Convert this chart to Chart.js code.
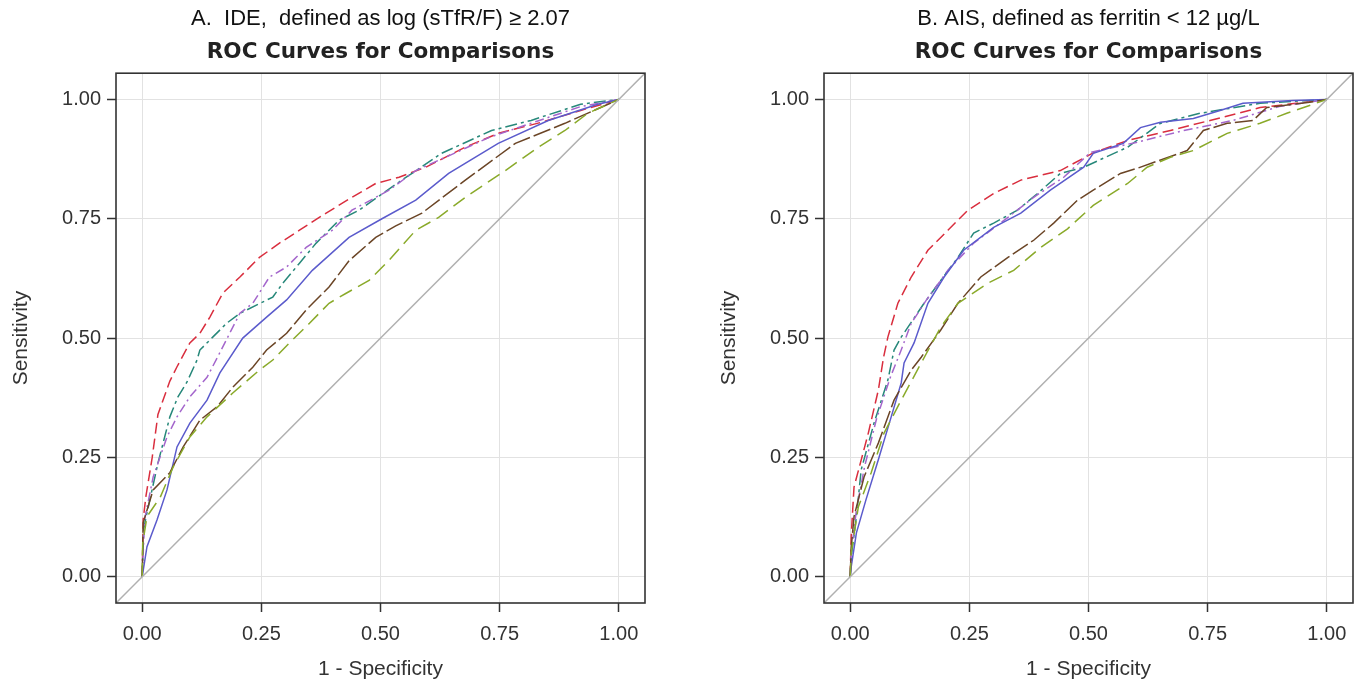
<!DOCTYPE html>
<html>
<head>
<meta charset="utf-8">
<title>ROC Curves for Comparisons</title>
<script src="https://cdn.jsdelivr.net/npm/chart.js@4.4.1/dist/chart.umd.min.js"></script>
<style>
  body { margin: 0; background: #fff; }
  .panel { position: absolute; top: 0; }
  #panelA { left: 0; }
  #panelB { left: 681px; }
</style>
</head>
<body>
<canvas id="panelA" class="panel" width="681" height="685"></canvas>
<canvas id="panelB" class="panel" width="682" height="685"></canvas>
<script>
// Axis ticks (both axes, both panels)
const tickValues = [0, 0.25, 0.5, 0.75, 1];
const axisMin = -0.055;
const axisMax = 1.055;

// Panel A: IDE curves, [1 - specificity, sensitivity]
const ideRed = [[0,0],[0.002,0.12],[0.008,0.17],[0.021,0.25],[0.033,0.34],[0.058,0.41],[0.073,0.44],[0.1,0.49],[0.121,0.51],[0.142,0.544],[0.169,0.594],[0.205,0.628],[0.246,0.669],[0.288,0.699],[0.33,0.726],[0.386,0.762],[0.44,0.795],[0.49,0.824],[0.539,0.837],[0.595,0.858],[0.678,0.9],[0.747,0.929],[0.837,0.952],[0.92,0.977],[1,1]];
const ideTeal = [[0,0],[0.003,0.1],[0.01,0.134],[0.033,0.238],[0.058,0.335],[0.075,0.377],[0.094,0.408],[0.115,0.454],[0.121,0.475],[0.148,0.502],[0.177,0.531],[0.205,0.552],[0.274,0.586],[0.295,0.615],[0.33,0.657],[0.365,0.699],[0.413,0.747],[0.455,0.768],[0.539,0.827],[0.628,0.887],[0.733,0.935],[0.816,0.956],[0.92,0.99],[1,1]];
const idePurple = [[0,0],[0.005,0.12],[0.023,0.209],[0.052,0.293],[0.073,0.335],[0.1,0.377],[0.136,0.418],[0.157,0.458],[0.205,0.552],[0.232,0.573],[0.267,0.628],[0.303,0.649],[0.344,0.69],[0.399,0.726],[0.44,0.768],[0.518,0.81],[0.574,0.851],[0.65,0.885],[0.727,0.92],[0.83,0.955],[0.92,0.985],[1,1]];
const ideBlue = [[0,0],[0.01,0.063],[0.031,0.119],[0.052,0.182],[0.073,0.272],[0.1,0.322],[0.136,0.37],[0.163,0.427],[0.211,0.5],[0.261,0.544],[0.303,0.58],[0.357,0.642],[0.434,0.711],[0.503,0.75],[0.574,0.789],[0.643,0.845],[0.747,0.908],[0.852,0.956],[0.956,0.99],[1,1]];
const ideBrown = [[0,0],[0.002,0.113],[0.023,0.182],[0.058,0.218],[0.086,0.272],[0.121,0.328],[0.157,0.356],[0.19,0.397],[0.232,0.439],[0.261,0.475],[0.303,0.51],[0.344,0.559],[0.392,0.607],[0.434,0.662],[0.49,0.711],[0.532,0.735],[0.587,0.762],[0.678,0.831],[0.783,0.908],[0.887,0.95],[1,1]];
const ideOlive = [[0,0],[0.001,0.07],[0.01,0.126],[0.038,0.167],[0.065,0.23],[0.1,0.293],[0.136,0.335],[0.19,0.385],[0.246,0.433],[0.274,0.454],[0.309,0.49],[0.351,0.531],[0.392,0.573],[0.428,0.594],[0.476,0.621],[0.518,0.663],[0.574,0.726],[0.622,0.753],[0.678,0.795],[0.762,0.851],[0.831,0.9],[0.887,0.935],[0.935,0.971],[1,1]];

// Panel B: AIS curves
const aisRed = [[0,0],[0.002,0.084],[0.008,0.188],[0.038,0.301],[0.059,0.391],[0.07,0.46],[0.079,0.502],[0.1,0.573],[0.128,0.628],[0.163,0.684],[0.205,0.726],[0.247,0.768],[0.301,0.803],[0.358,0.831],[0.441,0.851],[0.51,0.888],[0.582,0.914],[0.672,0.935],[0.755,0.956],[0.86,0.983],[0.985,0.998],[1,1]];
const aisTeal = [[0,0],[0.002,0.04],[0.013,0.126],[0.023,0.224],[0.05,0.322],[0.079,0.412],[0.092,0.475],[0.107,0.502],[0.155,0.573],[0.19,0.621],[0.226,0.669],[0.259,0.72],[0.301,0.741],[0.351,0.768],[0.393,0.803],[0.441,0.845],[0.49,0.858],[0.582,0.9],[0.651,0.95],[0.734,0.971],[0.86,0.992],[1,1]];
const aisPurple = [[0,0],[0.002,0.05],[0.013,0.14],[0.03,0.23],[0.055,0.33],[0.085,0.42],[0.107,0.475],[0.128,0.531],[0.16,0.58],[0.205,0.642],[0.259,0.699],[0.331,0.753],[0.385,0.795],[0.448,0.837],[0.504,0.889],[0.6,0.91],[0.7,0.935],[0.803,0.956],[0.9,0.985],[1,1]];
const aisBlue = [[0,0],[0.002,0.02],[0.013,0.092],[0.033,0.161],[0.059,0.245],[0.086,0.335],[0.107,0.406],[0.113,0.448],[0.134,0.49],[0.163,0.573],[0.197,0.628],[0.238,0.684],[0.301,0.732],[0.358,0.762],[0.42,0.81],[0.49,0.858],[0.51,0.887],[0.573,0.908],[0.609,0.941],[0.651,0.952],[0.72,0.96],[0.776,0.977],[0.824,0.992],[0.929,0.998],[1,1]];
const aisBrown = [[0,0],[0.002,0.06],[0.008,0.126],[0.029,0.209],[0.059,0.28],[0.092,0.37],[0.128,0.433],[0.149,0.46],[0.19,0.517],[0.226,0.573],[0.274,0.628],[0.331,0.669],[0.385,0.705],[0.427,0.741],[0.477,0.789],[0.51,0.81],[0.567,0.845],[0.603,0.856],[0.707,0.893],[0.741,0.935],[0.791,0.95],[0.845,0.956],[0.874,0.983],[0.964,0.994],[1,1]];
const aisOlive = [[0,0],[0.002,0.05],[0.017,0.146],[0.044,0.218],[0.071,0.301],[0.107,0.37],[0.149,0.448],[0.19,0.523],[0.226,0.573],[0.289,0.615],[0.343,0.642],[0.4,0.69],[0.456,0.729],[0.51,0.778],[0.582,0.824],[0.623,0.858],[0.672,0.879],[0.72,0.893],[0.791,0.929],[0.86,0.95],[0.916,0.971],[1,1]];

// Chance line, corner to corner of the plot frame
const chanceLine = [[axisMin, axisMin], [axisMax, axisMax]];

const sansFont = "'Liberation Sans', Arial, sans-serif";
Chart.defaults.font.family = sansFont;
Chart.defaults.color = "#333";

function toPoints(pairs) {
  return pairs.map(p => ({ x: p[0], y: p[1] }));
}

function curve(pairs, color, dash) {
  return {
    data: toPoints(pairs),
    showLine: true,
    borderColor: color,
    borderWidth: 1.5,
    borderDash: dash,
    pointRadius: 0,
    fill: false,
    tension: 0
  };
}

// draws the full box round the plot area
const framePlugin = {
  id: "frame",
  afterDatasetsDraw(chart) {
    const a = chart.chartArea;
    const ctx = chart.ctx;
    ctx.save();
    ctx.strokeStyle = "#333";
    ctx.lineWidth = 1.6;
    ctx.strokeRect(a.left, a.top, a.right - a.left, a.bottom - a.top);
    ctx.restore();
  }
};

function axis(title, isY) {
  return {
    type: "linear",
    min: axisMin,
    max: axisMax,
    afterBuildTicks: (scale) => {
      scale.ticks = tickValues.map(v => ({ value: v }));
    },
    afterFit: (scale) => {
      if (isY) scale.width = 107;
      else scale.height = 80;
    },
    border: { display: false },
    grid: {
      color: "#e2e2e2",
      lineWidth: 1,
      tickColor: "#333",
      tickLength: 9,
      tickWidth: 1.5
    },
    ticks: {
      color: "#333",
      font: { size: 20 },
      padding: isY ? 6 : 10,
      callback: (v) => v.toFixed(2)
    },
    title: {
      display: true,
      text: title,
      color: "#333",
      font: { size: 21 },
      padding: isY ? { top: 0, bottom: 0 } : { top: 0, bottom: 1 }
    }
  };
}

function makePanel(id, heading, series, padLeft, padRight) {
  new Chart(document.getElementById(id), {
    type: "scatter",
    data: {
      datasets: [
        curve(chanceLine, "#b0b0b0", []),
        curve(series[5], "#8aaa2a", [14, 7]),
        curve(series[4], "#6b4526", [18, 4]),
        curve(series[3], "#5b5bcc", []),
        curve(series[2], "#a466cc", [9, 4, 2, 4]),
        curve(series[1], "#27887a", [12, 4, 3, 4]),
        curve(series[0], "#d92e3e", [11, 5])
      ]
    },
    options: {
      responsive: false,
      animation: false,
      layout: { padding: { left: padLeft, right: padRight, top: 0, bottom: 2 } },
      plugins: {
        legend: { display: false },
        tooltip: { enabled: false },
        title: {
          display: true,
          fullSize: false,
          text: heading,
          color: "#111",
          font: { size: 22, weight: "normal" },
          padding: { top: 6, bottom: 2 }
        },
        subtitle: {
          display: true,
          fullSize: false,
          text: "ROC Curves for Comparisons",
          color: "#222",
          font: { family: "'DejaVu Sans', Verdana, sans-serif", size: 21.5, weight: "bold" },
          padding: { top: 5, bottom: 8 }
        }
      },
      scales: {
        x: axis("1 - Specificity", false),
        y: axis("Sensitivity", true)
      }
    },
    plugins: [framePlugin]
  });
}

makePanel("panelA", "A.  IDE,  defined as log (sTfR/F) \u2265 2.07",
  [ideRed, ideTeal, idePurple, ideBlue, ideBrown, ideOlive], 9, 36);
makePanel("panelB", "B. AIS, defined as ferritin < 12 \u00b5g/L",
  [aisRed, aisTeal, aisPurple, aisBlue, aisBrown, aisOlive], 36, 10);
</script>
</body>
</html>
